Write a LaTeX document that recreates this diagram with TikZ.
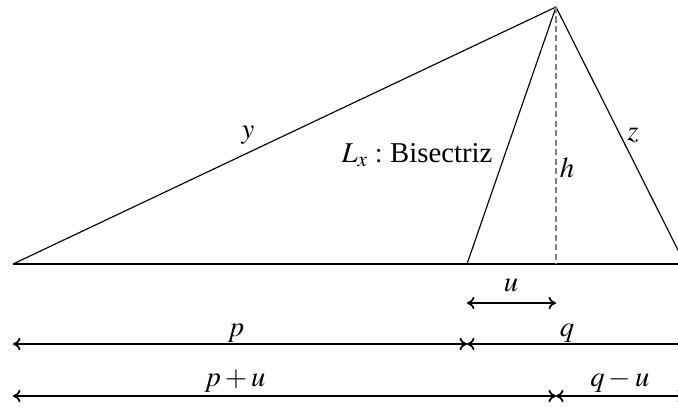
\documentclass[tikz,border=0pt]{standalone}
\usepackage{mathptmx}
\usepackage{fontspec}
\setmainfont{Liberation Serif}
\usetikzlibrary{arrows.meta}
\begin{document}
\begin{tikzpicture}[x=0.348pt,y=-0.348pt,
  side/.style={line width=0.4pt},
  dim/.style={line width=0.45pt,{To[length=2.6pt,width=4.4pt,line width=0.6pt]}-{To[length=2.6pt,width=4.4pt,line width=0.6pt]}},
  lbl/.style={inner sep=0pt},
  heightline/.style={gray,line width=0.45pt,dash pattern=on 2.1pt off 1.2pt}]
\useasboundingbox (0,0) rectangle (678,408);
\clip (0,0) rectangle (678,408);
\coordinate (A) at (13,264);
\coordinate (B) at (685,264);
\coordinate (C) at (556,7);
\coordinate (D) at (467,264);
\coordinate (H) at (556,264);
% dimension end points
\coordinate (u1) at (467,303); \coordinate (u2) at (556,303);
\coordinate (p1) at (13,344); \coordinate (p2) at (467,344); \coordinate (p3) at (685,344);
\coordinate (s1) at (13,396); \coordinate (s2) at (556,396); \coordinate (s3) at (685,396);
% triangle
\draw[side] (A) -- (B);
\draw[side] (A) -- (C) -- (B);
\draw[side] (D) -- (C);
\draw[heightline] (C) -- (H);
% dimensions
\draw[dim] (u1) -- (u2);
\draw[dim] (p1) -- (p2);
\draw[dim] (p2) -- (p3);
\draw[dim] (s1) -- (s2);
\draw[dim] (s2) -- (s3);
% labels
\node[lbl] (ly) at (248,135) {$y$};
\node[lbl] (lz) at (633,135) {$z$};
\node[lbl] (lh) at (567,168) {$h$};
\node[lbl] (lL) at (417,155) {$L_x:$ Bisectriz};
\node[lbl] (lu) at (511,285) {$u$};
\node[lbl] (lp) at (236,333) {$p$};
\node[lbl] (lq) at (567,333) {$q$};
\node[lbl] (lpu) at (235,381) {$p+u$};
\node[lbl] (lqu) at (620,381) {$q-u$};
\end{tikzpicture}
\end{document}
